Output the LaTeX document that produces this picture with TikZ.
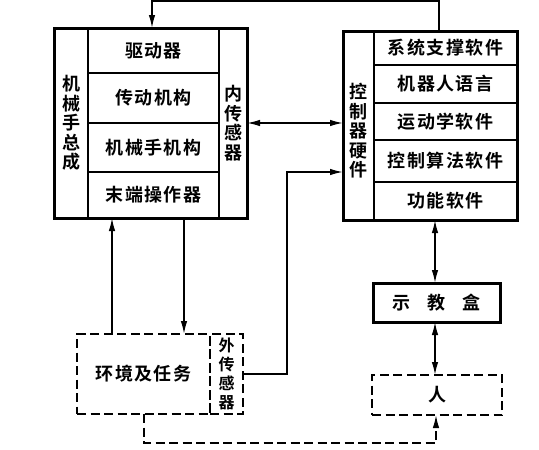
\documentclass[tikz,border=0pt]{standalone}
\usepackage{fontspec}
\setmainfont{Noto Sans CJK SC}[BoldFont={* Bold}]
\usetikzlibrary{arrows.meta}
\begin{document}
\begin{tikzpicture}[x=1pt,y=-1pt,
  font=\bfseries\fontsize{18}{20}\selectfont\addfontfeature{LetterSpace=8},
  cell/.style={draw,line width=1.9pt,inner sep=0pt,outer sep=0pt,align=center},
  outerbox/.style={draw,line width=3pt,inner sep=0pt,outer sep=0pt},
  dcell/.style={draw,line width=1.7pt,dash pattern=on 9pt off 4.5pt,inner sep=0pt,outer sep=0pt,align=center},
  vtext/.style={font=\bfseries\fontsize{18}{19.5}\selectfont,align=center,inner sep=0pt},
  conn/.style={line width=1.5pt},
  tip/.style={-{Latex[length=13pt,width=6.5pt]}},
  dtip/.style={{Latex[length=13pt,width=6.5pt]}-{Latex[length=13pt,width=6.5pt]}},
  ]
\useasboundingbox[fill=white] (0,0) rectangle (539,450);
% left assembly
\node[cell,minimum width=34pt,minimum height=190pt,vtext] (lcol) at (71,123) {机\\械\\手\\总\\成};
\node[cell,minimum width=28pt,minimum height=190pt,vtext] (rcol) at (233,123) {内\\传\\感\\器};
\node[cell,minimum width=131pt,minimum height=45pt] (r1) at (153.5,50.5) {驱动器};
\node[cell,minimum width=131pt,minimum height=50pt] (r2) at (153.5,98) {传动机构};
\node[cell,minimum width=131pt,minimum height=49pt] (r3) at (153.5,147.5) {机械手机构};
\node[cell,minimum width=131pt,minimum height=46pt] (r4) at (153.5,195) {末端操作器};
\node[outerbox,minimum width=193pt,minimum height=190pt] (lbox) at (150.5,123) {};
% control
\node[cell,minimum width=31pt,minimum height=189pt] (ccol) at (358.5,125.5) {};
\node[vtext] (ccoltext) at (358.5,131) {控\\制\\器\\硬\\件};
\node[cell,minimum width=143pt,minimum height=34pt] (s1) at (445.5,48) {系统支撑软件};
\node[cell,minimum width=143pt,minimum height=38pt] (s2) at (445.5,84) {机器人语言};
\node[cell,minimum width=143pt,minimum height=37pt] (s3) at (445.5,121.5) {运动学软件};
\node[cell,minimum width=143pt,minimum height=42pt] (s4) at (445.5,161) {控制算法软件};
\node[cell,minimum width=143pt,minimum height=38pt] (s5) at (445.5,201) {功能软件};
\node[outerbox,minimum width=174pt,minimum height=189pt] (cbox) at (430,125.5) {};
% environment
\node[dcell,minimum width=133pt,minimum height=80pt] (env) at (143.5,374) {环境及任务};
\node[dcell,minimum width=33pt,minimum height=80pt,font=\bfseries\fontsize{16}{19}\selectfont] (ext) at (226.5,374) {外\\传\\感\\器};
% teach box and person
\node[outerbox,minimum width=127pt,minimum height=39pt] (teach) at (436.5,302.5) {示\hspace{17pt}教\hspace{17pt}盒};
\node[dcell,minimum width=130pt,minimum height=40pt] (person) at (437,395) {人};
% connectors
\coordinate (t1) at (439,1);
\coordinate (t2) at (152,1);
\draw[conn,tip] (cbox.north -| t1) -- (t1) -- (t2) -- (t2 |- lbox.north);
\draw[conn,dtip] (rcol.east) -- (rcol.east -| ccol.west);
\coordinate (k) at (287,172);
\draw[conn,tip] (ext.east) -| (k) -- (k -| ccol.west);
\coordinate (u) at (112,0);
\draw[conn,tip] (u |- env.north) -- (u |- lbox.south);
\coordinate (d) at (184,0);
\draw[conn,tip] (d |- lbox.south) -- (d |- env.north);
\coordinate (v) at (435,0);
\draw[conn,dtip] (v |- cbox.south) -- (v |- teach.north);
\draw[conn,dtip] (v |- teach.south) -- (v |- person.north);
\coordinate (b1) at (144,443);
\coordinate (b2) at (436,443);
\draw[conn,dash pattern=on 9pt off 4.5pt,tip] (b1 |- env.south) -- (b1) -- (b2) -- (b2 |- person.south);
\end{tikzpicture}
\end{document}
